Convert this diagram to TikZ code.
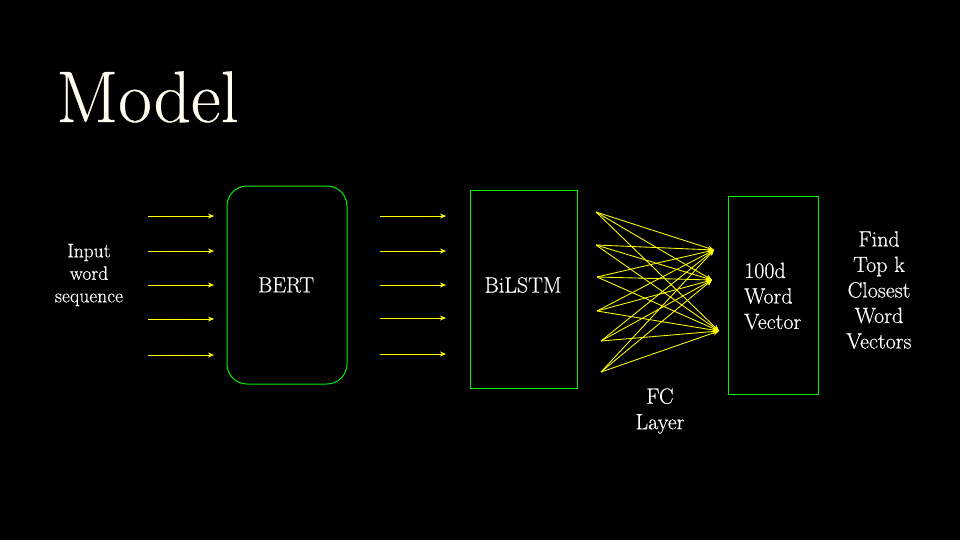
\documentclass[tikz,border=0pt]{standalone}
\usepackage{fontspec}
\setmainfont{Latin Modern Roman}
\newfontfamily\lmw{Latin Modern Roman}[FakeBold=0.4]
\usetikzlibrary{arrows.meta}
\definecolor{boxgreen}{HTML}{00F000}
\definecolor{arrowyellow}{HTML}{FFFF00}
\definecolor{titlecol}{HTML}{FFFDF0}
\definecolor{txt}{HTML}{FFFFFF}
\begin{document}
\begin{tikzpicture}[x=1pt,y=-1pt,
  gbox/.style={draw=boxgreen,line width=1pt,inner sep=0pt},
  yarrow/.style={draw=arrowyellow,line width=0.9pt,-{Stealth[length=6pt,width=5pt]}},
  fcarrow/.style={draw=arrowyellow,line width=0.85pt,-{Stealth[length=6pt,width=5pt]}},
  lbl/.style={text=txt,font=\lmw\fontsize{22}{25.5}\selectfont,inner sep=0pt,align=center},
  smalllbl/.style={text=txt,font=\lmw\fontsize{19.5}{22.5}\selectfont,inner sep=0pt,align=center}]
\fill[black] (0,0) rectangle (960,540);
\useasboundingbox (0,0) rectangle (960,540);

\node[anchor=base west,inner sep=0pt,text=titlecol,font=\lmw\fontsize{73}{80}\selectfont] (title) at (56,122) {Model};

\node[smalllbl] (input) at (89,275) {Input\\word\\sequence};

\node[gbox,rounded corners=20pt,minimum width=120pt,minimum height=198pt] (bert) at (287,285) {};
\node[lbl] (berttxt) at (286,285) {BERT};

\node[gbox,minimum width=107pt,minimum height=198pt] (bilstm) at (523.5,289) {};
\node[lbl] (bilstmtxt) at (523,285) {BiLSTM};

\node[gbox,minimum width=90pt,minimum height=198pt] (vec) at (773,295) {};
\node[lbl,align=left,anchor=west] (vectxt) at (744,296) {100d\\Word\\Vector};

\node[lbl] (find) at (879,290) {Find\\Top k\\Closest\\Word\\Vectors};

\node[lbl] (fc) at (660,411) {FC\\Layer};

% arrows into BERT
\foreach \i/\y in {1/216,2/251,3/285,4/319,5/355}{
  \coordinate (a\i) at (148,\y);
  \coordinate (b\i) at (214,\y);
  \draw[yarrow] (a\i) -- (b\i);
}
% arrows into BiLSTM
\foreach \i/\y in {1/216,2/251,3/285,4/318,5/354}{
  \coordinate (c\i) at (380,\y);
  \coordinate (d\i) at (446,\y);
  \draw[yarrow] (c\i) -- (d\i);
}
% FC layer
\coordinate (s1) at (596,212);
\coordinate (s2) at (596,245);
\coordinate (s3) at (597,277);
\coordinate (s4) at (597,311);
\coordinate (s5) at (601,341);
\coordinate (s6) at (601,372);
\coordinate (t1) at (714,250);
\coordinate (t2) at (712,280);
\coordinate (t3) at (719,331);
\foreach \s in {1,...,6}{
  \foreach \t in {1,2,3}{
    \draw[fcarrow] (s\s) -- (t\t);
  }
}
\end{tikzpicture}
\end{document}
